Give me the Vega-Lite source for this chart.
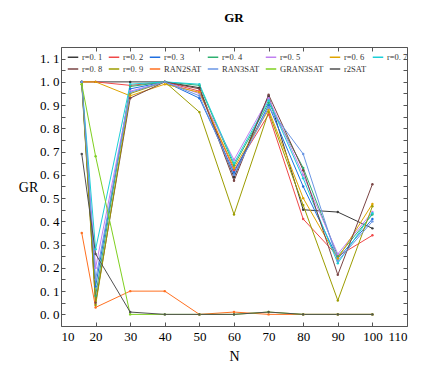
{
  "$schema": "https://vega.github.io/schema/vega-lite/v6.json",
  "autosize": {"type": "none"},
  "padding": {"left": 61, "top": 47, "right": 37, "bottom": 62},
  "width": 346,
  "height": 279,
  "background": "white",
  "title": {"text": "GR", "fontSize": 13, "fontWeight": "bold", "font": "Liberation Serif", "offset": 22, "color": "#000"},
  "config": {
    "view": {"stroke": null},
    "axis": {"grid": false, "domainColor": "#555", "tickColor": "#555", "tickSize": -4, "labelFont": "Liberation Serif", "labelFontSize": 13, "labelColor": "#000", "titleFont": "Liberation Serif", "titleFontSize": 14, "titleFontWeight": "normal", "titleColor": "#000"}
  },
  "datasets": {
    "d": [
      {"s": "r=0.1", "N": 16, "GR": 1.0}, {"s": "r=0.1", "N": 20, "GR": 1.0}, {"s": "r=0.1", "N": 30, "GR": 1.0}, {"s": "r=0.1", "N": 40, "GR": 1.0}, {"s": "r=0.1", "N": 50, "GR": 0.975}, {"s": "r=0.1", "N": 60, "GR": 0.59}, {"s": "r=0.1", "N": 70, "GR": 0.94}, {"s": "r=0.1", "N": 80, "GR": 0.45}, {"s": "r=0.1", "N": 90, "GR": 0.44}, {"s": "r=0.1", "N": 100, "GR": 0.37},
      {"s": "r=0.2", "N": 16, "GR": 1.0}, {"s": "r=0.2", "N": 20, "GR": 1.0}, {"s": "r=0.2", "N": 30, "GR": 0.985}, {"s": "r=0.2", "N": 40, "GR": 1.0}, {"s": "r=0.2", "N": 50, "GR": 0.96}, {"s": "r=0.2", "N": 60, "GR": 0.62}, {"s": "r=0.2", "N": 70, "GR": 0.86}, {"s": "r=0.2", "N": 80, "GR": 0.41}, {"s": "r=0.2", "N": 90, "GR": 0.25}, {"s": "r=0.2", "N": 100, "GR": 0.34},
      {"s": "r=0.3", "N": 16, "GR": 1.0}, {"s": "r=0.3", "N": 20, "GR": 0.12}, {"s": "r=0.3", "N": 30, "GR": 0.97}, {"s": "r=0.3", "N": 40, "GR": 1.0}, {"s": "r=0.3", "N": 50, "GR": 0.93}, {"s": "r=0.3", "N": 60, "GR": 0.61}, {"s": "r=0.3", "N": 70, "GR": 0.9}, {"s": "r=0.3", "N": 80, "GR": 0.55}, {"s": "r=0.3", "N": 90, "GR": 0.24}, {"s": "r=0.3", "N": 100, "GR": 0.41},
      {"s": "r=0.4", "N": 16, "GR": 1.0}, {"s": "r=0.4", "N": 20, "GR": 0.08}, {"s": "r=0.4", "N": 30, "GR": 0.98}, {"s": "r=0.4", "N": 40, "GR": 1.0}, {"s": "r=0.4", "N": 50, "GR": 0.985}, {"s": "r=0.4", "N": 60, "GR": 0.64}, {"s": "r=0.4", "N": 70, "GR": 0.91}, {"s": "r=0.4", "N": 80, "GR": 0.63}, {"s": "r=0.4", "N": 90, "GR": 0.25}, {"s": "r=0.4", "N": 100, "GR": 0.43},
      {"s": "r=0.5", "N": 16, "GR": 1.0}, {"s": "r=0.5", "N": 20, "GR": 0.2}, {"s": "r=0.5", "N": 30, "GR": 0.96}, {"s": "r=0.5", "N": 40, "GR": 1.0}, {"s": "r=0.5", "N": 50, "GR": 0.95}, {"s": "r=0.5", "N": 60, "GR": 0.665}, {"s": "r=0.5", "N": 70, "GR": 0.93}, {"s": "r=0.5", "N": 80, "GR": 0.6}, {"s": "r=0.5", "N": 90, "GR": 0.26}, {"s": "r=0.5", "N": 100, "GR": 0.44},
      {"s": "r=0.6", "N": 16, "GR": 1.0}, {"s": "r=0.6", "N": 20, "GR": 1.0}, {"s": "r=0.6", "N": 30, "GR": 0.94}, {"s": "r=0.6", "N": 40, "GR": 0.99}, {"s": "r=0.6", "N": 50, "GR": 0.955}, {"s": "r=0.6", "N": 60, "GR": 0.63}, {"s": "r=0.6", "N": 70, "GR": 0.88}, {"s": "r=0.6", "N": 80, "GR": 0.5}, {"s": "r=0.6", "N": 90, "GR": 0.24}, {"s": "r=0.6", "N": 100, "GR": 0.475},
      {"s": "r=0.7", "N": 16, "GR": 1.0}, {"s": "r=0.7", "N": 20, "GR": 0.28}, {"s": "r=0.7", "N": 30, "GR": 0.99}, {"s": "r=0.7", "N": 40, "GR": 1.0}, {"s": "r=0.7", "N": 50, "GR": 0.99}, {"s": "r=0.7", "N": 60, "GR": 0.65}, {"s": "r=0.7", "N": 70, "GR": 0.92}, {"s": "r=0.7", "N": 80, "GR": 0.585}, {"s": "r=0.7", "N": 90, "GR": 0.22}, {"s": "r=0.7", "N": 100, "GR": 0.435},
      {"s": "r=0.8", "N": 16, "GR": 1.0}, {"s": "r=0.8", "N": 20, "GR": 0.05}, {"s": "r=0.8", "N": 30, "GR": 0.93}, {"s": "r=0.8", "N": 40, "GR": 1.0}, {"s": "r=0.8", "N": 50, "GR": 0.97}, {"s": "r=0.8", "N": 60, "GR": 0.575}, {"s": "r=0.8", "N": 70, "GR": 0.945}, {"s": "r=0.8", "N": 80, "GR": 0.62}, {"s": "r=0.8", "N": 90, "GR": 0.17}, {"s": "r=0.8", "N": 100, "GR": 0.56},
      {"s": "r=0.9", "N": 16, "GR": 0.99}, {"s": "r=0.9", "N": 20, "GR": 0.04}, {"s": "r=0.9", "N": 30, "GR": 0.95}, {"s": "r=0.9", "N": 40, "GR": 1.0}, {"s": "r=0.9", "N": 50, "GR": 0.87}, {"s": "r=0.9", "N": 60, "GR": 0.43}, {"s": "r=0.9", "N": 70, "GR": 0.87}, {"s": "r=0.9", "N": 80, "GR": 0.47}, {"s": "r=0.9", "N": 90, "GR": 0.06}, {"s": "r=0.9", "N": 100, "GR": 0.465},
      {"s": "RAN2SAT", "N": 16, "GR": 0.35}, {"s": "RAN2SAT", "N": 20, "GR": 0.03}, {"s": "RAN2SAT", "N": 30, "GR": 0.1}, {"s": "RAN2SAT", "N": 40, "GR": 0.1}, {"s": "RAN2SAT", "N": 50, "GR": 0.0}, {"s": "RAN2SAT", "N": 60, "GR": 0.01}, {"s": "RAN2SAT", "N": 70, "GR": 0.0}, {"s": "RAN2SAT", "N": 80, "GR": 0.0}, {"s": "RAN2SAT", "N": 90, "GR": 0.0}, {"s": "RAN2SAT", "N": 100, "GR": 0.0},
      {"s": "RAN3SAT", "N": 16, "GR": 1.0}, {"s": "RAN3SAT", "N": 20, "GR": 0.15}, {"s": "RAN3SAT", "N": 30, "GR": 0.955}, {"s": "RAN3SAT", "N": 40, "GR": 1.0}, {"s": "RAN3SAT", "N": 50, "GR": 0.94}, {"s": "RAN3SAT", "N": 60, "GR": 0.6}, {"s": "RAN3SAT", "N": 70, "GR": 0.89}, {"s": "RAN3SAT", "N": 80, "GR": 0.69}, {"s": "RAN3SAT", "N": 90, "GR": 0.23}, {"s": "RAN3SAT", "N": 100, "GR": 0.4},
      {"s": "GRAN3SAT", "N": 16, "GR": 0.99}, {"s": "GRAN3SAT", "N": 20, "GR": 0.68}, {"s": "GRAN3SAT", "N": 30, "GR": 0.0}, {"s": "GRAN3SAT", "N": 40, "GR": 0.0}, {"s": "GRAN3SAT", "N": 50, "GR": 0.0}, {"s": "GRAN3SAT", "N": 60, "GR": 0.0}, {"s": "GRAN3SAT", "N": 70, "GR": 0.01}, {"s": "GRAN3SAT", "N": 80, "GR": 0.0}, {"s": "GRAN3SAT", "N": 90, "GR": 0.0}, {"s": "GRAN3SAT", "N": 100, "GR": 0.0},
      {"s": "r2SAT", "N": 16, "GR": 0.69}, {"s": "r2SAT", "N": 20, "GR": 0.26}, {"s": "r2SAT", "N": 30, "GR": 0.01}, {"s": "r2SAT", "N": 40, "GR": 0.0}, {"s": "r2SAT", "N": 50, "GR": 0.0}, {"s": "r2SAT", "N": 60, "GR": 0.0}, {"s": "r2SAT", "N": 70, "GR": 0.01}, {"s": "r2SAT", "N": 80, "GR": 0.0}, {"s": "r2SAT", "N": 90, "GR": 0.0}, {"s": "r2SAT", "N": 100, "GR": 0.0}
    ]
  },
  "data": {"name": "d"},
  "resolve": {"axis": {"x": "independent", "y": "independent"}},
  "layer": [
    {
      "mark": {"type": "line", "strokeWidth": 1, "point": {"filled": true, "size": 6}},
      "encoding": {
        "x": {"field": "N", "type": "quantitative", "scale": {"domain": [10, 110], "nice": false}, "axis": {"title": "N", "values": [10, 20, 30, 40, 50, 60, 70, 80, 90, 100, 110], "labelPadding": 8, "titlePadding": 6}},
        "y": {"field": "GR", "type": "quantitative", "scale": {"domain": [-0.05, 1.15], "nice": false, "zero": false}, "axis": {"title": "GR", "titleAngle": 0, "titleAlign": "center", "titleBaseline": "middle", "titleX": -33, "titleY": 140, "values": [0, 0.05, 0.1, 0.15, 0.2, 0.25, 0.3, 0.35, 0.4, 0.45, 0.5, 0.55, 0.6, 0.65, 0.7, 0.75, 0.8, 0.85, 0.9, 0.95, 1.0, 1.05, 1.1], "labelExpr": "round(datum.value*20) % 2 == 0 ? replace(format(datum.value, '.1f'), '.', '. ') : ''", "labelPadding": 6}},
        "color": {"field": "s", "type": "nominal", "sort": null,
          "scale": {"domain": ["r=0.1", "r=0.2", "r=0.3", "r=0.4", "r=0.5", "r=0.6", "r=0.7", "r=0.8", "r=0.9", "RAN2SAT", "RAN3SAT", "GRAN3SAT", "r2SAT"],
                    "range": ["#3a3a3a", "#f04848", "#1f6fe0", "#2eb070", "#c080f0", "#e0a400", "#1ccfd8", "#7a4444", "#9c9c00", "#ff7020", "#6a96e4", "#7fd020", "#505050"]},
          "legend": {"orient": "none", "legendX": 6, "legendY": 4, "direction": "horizontal", "columns": 7, "title": null, "labelFont": "Liberation Serif", "labelFontSize": 8.5, "labelColor": "#333", "symbolType": "stroke", "symbolSize": 110, "symbolStrokeWidth": 1.5, "rowPadding": 1, "columnPadding": 2, "labelOffset": 3, "labelExpr": "replace(datum.label, '.', '. ')"}}
      }
    },
    {
      "mark": {"type": "point", "opacity": 0},
      "encoding": {
        "x": {"field": "N", "type": "quantitative", "axis": {"orient": "top", "title": null, "labels": false, "values": [10, 20, 30, 40, 50, 60, 70, 80, 90, 100, 110]}},
        "y": {"field": "GR", "type": "quantitative", "axis": {"orient": "right", "title": null, "labels": false, "values": [0, 0.05, 0.1, 0.15, 0.2, 0.25, 0.3, 0.35, 0.4, 0.45, 0.5, 0.55, 0.6, 0.65, 0.7, 0.75, 0.8, 0.85, 0.9, 0.95, 1.0, 1.05, 1.1]}}
      }
    }
  ]
}
